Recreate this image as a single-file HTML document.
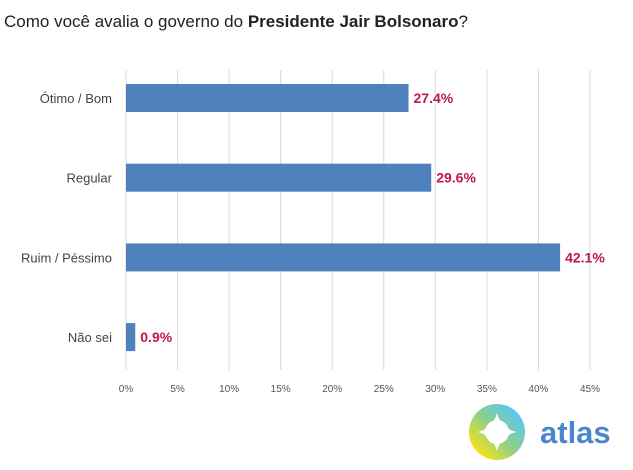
<!DOCTYPE html>
<html><head><meta charset="utf-8"><style>
body{margin:0;background:#fff;width:633px;height:465px;overflow:hidden;font-family:"Liberation Sans",sans-serif}
</style></head><body>
<svg width="633" height="465" id="svg">
<text x="4" y="27" font-size="17" fill="#222">Como você avalia o governo do <tspan font-weight="bold">Presidente Jair Bolsonaro</tspan>?</text>
<g id="grid"></g><g id="bars"></g>
<g>
<defs><linearGradient id="lg" x1="0" y1="1" x2="1" y2="0"><stop offset="0.15" stop-color="#f3e21a"/><stop offset="0.5" stop-color="#8fcf8a"/><stop offset="0.85" stop-color="#5ac8ee"/></linearGradient></defs>
<circle cx="497" cy="432" r="28" fill="url(#lg)"/>
<path d="M497 413 Q501 428 516 432 Q501 436 497 451 Q493 436 478 432 Q493 428 497 413Z" fill="#fff"/>
<circle cx="497" cy="432" r="12" fill="#fff"/>
<text x="540" y="443" font-size="31" font-weight="bold" fill="#4a86d0">atlas</text>
</g>
</svg>
<script>
const categories=["Ótimo / Bom","Regular","Ruim / Péssimo","Não sei"];
const values=[27.4,29.6,42.1,0.9];
const valueLabels=["27.4%","29.6%","42.1%","0.9%"];
const ticks=[0,5,10,15,20,25,30,35,40,45];
const NS="http://www.w3.org/2000/svg";
const x=v=>126+v*(464/45);
const y=i=>84+i*79.7;
const g=document.getElementById('grid'),b=document.getElementById('bars');
function mk(t,a,p){const e=document.createElementNS(NS,t);for(const k in a)e.setAttribute(k,a[k]);p.appendChild(e);return e;}
ticks.forEach(t=>{
 const l=mk('line',{x1:x(t),x2:x(t),y1:70,y2:370,stroke:'#d9d9d9','stroke-width':1},g);
 
 
 const tx=mk('text',{x:x(t),y:392,'font-size':10,fill:'#555','text-anchor':'middle'},g);
 tx.textContent=t+'%';
 
 
});
categories.forEach((c,i)=>{
 const r=mk('rect',{x:x(0),y:y(i),width:x(values[i])-x(0),height:28,fill:'#4f81bd'},b);
 
 
 const cl=mk('text',{x:112,y:y(i)+19,'font-size':13,fill:'#444','text-anchor':'end'},b);
 cl.textContent=c;
 
 
 const vl=mk('text',{x:x(values[i])+5,y:y(i)+19,'font-size':14,'font-weight':'bold',fill:'#c0174a'},b);
 vl.textContent=valueLabels[i];
 
 
});
</script>
</body></html>
